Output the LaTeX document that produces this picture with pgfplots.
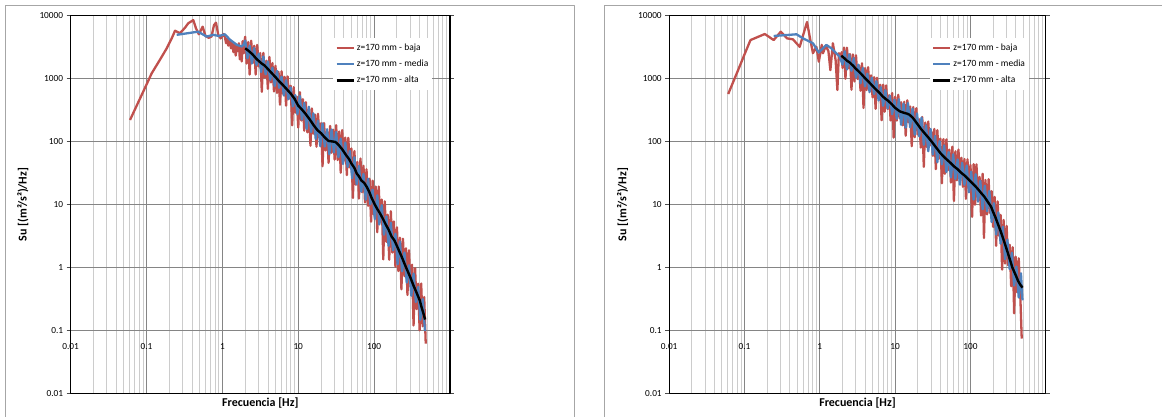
\documentclass[border=0pt]{standalone}
\usepackage{fontspec}
\setmainfont{Carlito}
\usepackage{pgfplots}
\pgfplotsset{compat=1.18}

\definecolor{baja}{HTML}{C0504D}
\definecolor{media}{HTML}{4F81BD}
\definecolor{marco}{HTML}{A6A6A6}

\begin{document}
\begin{tikzpicture}[line join=round]
\useasboundingbox (0,0) rectangle (1162pt,-417pt);
\draw[marco, line width=0.8pt] (5.6pt,-5pt) rectangle (574pt,-425pt);
\draw[marco, line width=0.8pt] (604.5pt,-5pt) rectangle (1175pt,-425pt);

% ---------------- left chart ----------------
\begin{axis}[at={(70.6pt,-15.3pt)}, anchor=north west,
    scale only axis, width=379.4pt, height=378.4pt,
    xmode=log, ymode=log,
    xmin=0.01, xmax=1000, ymin=0.01, ymax=10000,
    xtick={0.01,0.1,1,10,100,1000},
    xticklabels={0.01,0.1,1,10,100,},
    minor xtick={0.02,0.03,0.04,0.05,0.06,0.07,0.08,0.09,0.2,0.3,0.4,0.5,0.6,0.7,0.8,0.9,2,3,4,5,6,7,8,9,20,30,40,50,60,70,80,90,200,300,400,500,600,700,800,900},
    ytick={0.01,0.1,1,10,100,1000,10000},
    yticklabels={0.01,0.1,1,10,100,1000,10000},
    xmajorgrids, xminorgrids, ymajorgrids,
    major grid style={draw=black!48, line width=0.8pt},
    minor grid style={draw=black!20, line width=1pt},
    axis line style={line width=1.1pt},
    tick align=outside,
    major tick length=4pt, minor tick length=0pt,
    xtick style={draw=none},
    ytick style={draw=black!70, line width=0.8pt},
    ticklabel style={font=\fontsize{9.3}{11}\selectfont},
    xticklabel style={yshift=57.5pt},
    xlabel={\bfseries Frecuencia [Hz]},
    ylabel={\bfseries Su [(m²/s²)/Hz]},
    label style={font=\fontsize{12}{14}\selectfont},
    xlabel style={at={(axis description cs:0.5,0)}, anchor=north, yshift=-1pt},
    ylabel style={at={(axis description cs:-0.1255,0.5)}, anchor=center},
    legend style={draw=none, fill=white, at={(0.692,0.94)}, anchor=north west,
      font=\fontsize{9.5}{11}\selectfont, row sep=4pt, inner xsep=2pt, inner ysep=4pt},
    legend cell align=left]
\addplot[baja, line width=2.3pt] coordinates {
(0.0607,219)(0.08,447)(0.1,795)(0.117,1200)(0.15,1960)(0.185,3000)(0.215,4300)(0.238,5700)(0.276,5190)(0.32,6300)
(0.355,7460)(0.414,8400)(0.449,6220)(0.49,5000)(0.55,6600)(0.6,4700)(0.66,4400)(0.72,4600)(0.776,7000)(0.824,7640)
(0.883,4890)(0.95,4300)(1.03,5040)(1.08,4500)(1.12,3600)(1.16,4300)(1.2,3300)(1.25,4100)(1.3,3000)(1.35,3700)
(1.4,2600)(1.45,3500)(1.5,2300)(1.55,3300)(1.6,2700)(1.65,3600)(1.7,2000)(1.75,3100)(1.8,1850)(1.85,3900)
(1.9,2500)(1.95,3700)
(2.00,4570)(2.09,1718)(2.19,3760)(2.29,1148)(2.40,3960)(2.51,1760)(2.63,3290)(2.75,1148)(2.88,3388)(3.02,1549)
(3.16,2520)(3.31,612)(3.47,2535)(3.63,1030)(3.80,1905)(3.98,684)(4.17,2188)(4.37,863)(4.57,1750)(4.79,622)
(5.01,1585)(5.25,588)(5.50,1268)(5.75,381)(6.03,1297)(6.31,568)(6.61,1059)(6.92,369)(7.24,1072)(7.59,480)
(7.94,762)(8.32,180)(8.71,724)(9.12,286)(9.55,515)(10.0,166)(10.5,603)(11.0,214)(11.5,469)(12.0,148)
(12.6,419)(13.2,139)(13.8,325)(14.5,85.7)(15.1,334)(15.8,133)(16.6,267)(17.4,82.6)(18.2,274)(19.1,115)
(20.0,195)(20.9,40.4)(21.9,196)(22.9,72.1)(24.0,143)(25.1,45.7)(26.3,176)(27.5,66.2)(28.8,154)(30.2,51.5)
(31.6,181)(33.1,50.6)(34.7,144)(36.3,32.0)(38.0,151)(39.8,49.2)(41.7,115)(43.7,29.2)(45.7,114)(47.9,38.7)
(50.1,77.5)(52.5,12.7)(55.0,70.4)(57.5,20.6)(60.3,47.2)(63.1,12.4)(66.1,53.5)(69.2,15.7)(72.4,41.2)(75.9,10.8)
(79.4,36.2)(83.2,9.53)(87.1,25.6)(91.2,5.33)(95.5,23.8)(100,6.89)(105,19.2)(110,3.64)(115,19.3)(120,5.31)
(126,12.0)(132,1.35)(138,11.2)(145,2.56)(151,6.90)(158,1.33)(166,7.82)(174,1.73)(182,5.38)(191,1.03)
(200,4.34)(209,0.881)(219,2.98)(229,0.452)(240,2.87)(251,0.731)(263,2.02)(275,0.368)(288,1.88)(302,0.500)
(316,1.11)(331,0.121)(347,0.978)(363,0.219)(380,0.556)(398,0.101)(417,0.558)(437,0.117)(457,0.341)(479,0.0621)
};
\addlegendentry{z=170 mm - baja}
\addplot[media, line width=2.3pt] coordinates {
(0.25,4900)(0.35,5200)(0.48,5500)(0.62,4600)(0.76,4900)(0.9,4700)(1.08,5000)(1.26,4100)(1.55,3400)(1.8,3200)(1.9,3400)
(2.00,3970)(2.14,2075)(2.29,3296)(2.45,1722)(2.63,3027)(2.82,1633)(3.02,2466)(3.24,1262)(3.47,2228)(3.72,1159)
(3.98,1858)(4.27,951)(4.57,1479)(4.90,757)(5.25,1318)(5.62,708)(6.03,1064)(6.46,536)(6.92,933)(7.41,467)
(7.94,719)(8.51,359)(9.12,543)(9.77,271)(10.5,525)(11.2,222)(12.0,408)(12.9,157)(13.8,356)(14.8,141)
(15.8,279)(17.0,110)(18.2,213)(19.5,84.1)(20.9,193)(22.4,83.2)(24.0,156)(25.7,62.8)(27.5,155)(29.5,66.8)
(31.6,141)(33.9,56.5)(36.3,111)(38.9,43.8)(41.7,96.2)(44.7,39.4)(47.9,70.5)(51.3,26.1)(55.0,56.1)(58.9,20.9)
(63.1,40.9)(67.6,16.0)(72.4,30.5)(77.6,11.9)(83.2,25.6)(89.1,10.1)(95.5,17.2)(102,5.87)(110,14.0)(117,4.84)
(126,9.75)(135,3.32)(145,6.49)(155,2.21)(166,5.15)(178,1.88)(191,3.44)(204,1.13)(219,2.60)(234,0.875)
(251,1.73)(269,0.578)(288,1.09)(309,0.357)(331,0.804)(355,0.285)(380,0.492)(407,0.149)(437,0.317)(468,0.0984)
};
\addlegendentry{z=170 mm - media}
\addplot[black, line width=2.4pt] coordinates {
(2.0,3000)(2.2,2750)(2.5,2400)(2.8,2050)(3.0,1900)(3.3,1720)(3.6,1600)(4.0,1400)(4.5,1200)(5.0,1050)
(5.6,900)(6.3,780)(7.0,680)(7.9,580)(8.9,480)(10,370)(11.2,320)(12.6,270)(14.3,220)(16,180)
(18,150)(20,135)(22,118)(25,102)(28,100)(31,98)(34,88)(38,75)(43,60)(47,52)
(50,45)(55,38)(59,31)(63,28)(68,24)(74,22)(80,19)(86,16)(92,13)(102,10)
(110,8.5)(119,7.3)(130,6.0)(140,5.0)(155,4.0)(170,3.1)(185,2.7)(200,2.2)(215,1.8)(230,1.5)
(248,1.2)(264,1.0)(280,0.85)(300,0.7)(330,0.52)(366,0.39)(400,0.30)(420,0.24)(445,0.19)(470,0.15)
};
\addlegendentry{z=170 mm - alta}
\end{axis}

% ---------------- right chart ----------------
\begin{axis}[at={(669.2pt,-15.3pt)}, anchor=north west,
    scale only axis, width=376.6pt, height=378.4pt,
    xmode=log, ymode=log,
    xmin=0.01, xmax=1000, ymin=0.01, ymax=10000,
    xtick={0.01,0.1,1,10,100,1000},
    xticklabels={0.01,0.1,1,10,100,},
    minor xtick={0.02,0.03,0.04,0.05,0.06,0.07,0.08,0.09,0.2,0.3,0.4,0.5,0.6,0.7,0.8,0.9,2,3,4,5,6,7,8,9,20,30,40,50,60,70,80,90,200,300,400,500,600,700,800,900},
    ytick={0.01,0.1,1,10,100,1000,10000},
    yticklabels={0.01,0.1,1,10,100,1000,10000},
    xmajorgrids, xminorgrids, ymajorgrids,
    major grid style={draw=black!48, line width=0.8pt},
    minor grid style={draw=black!20, line width=1pt},
    axis line style={line width=1.1pt},
    tick align=outside,
    major tick length=4pt, minor tick length=0pt,
    xtick style={draw=none},
    ytick style={draw=black!70, line width=0.8pt},
    ticklabel style={font=\fontsize{9.3}{11}\selectfont},
    xticklabel style={yshift=57.5pt},
    xlabel={\bfseries Frecuencia [Hz]},
    ylabel={\bfseries Su [(m²/s²)/Hz]},
    label style={font=\fontsize{12}{14}\selectfont},
    xlabel style={at={(axis description cs:0.5,0)}, anchor=north, yshift=-1pt},
    ylabel style={at={(axis description cs:-0.1235,0.5)}, anchor=center},
    legend style={draw=none, fill=white, at={(0.692,0.94)}, anchor=north west,
      font=\fontsize{9.5}{11}\selectfont, row sep=4pt, inner xsep=2pt, inner ysep=4pt},
    legend cell align=left]
\addplot[baja, line width=2.3pt] coordinates {
(0.0607,565)(0.08,1250)(0.1,2400)(0.12,4050)(0.186,5050)(0.244,4050)(0.303,5500)(0.367,4310)(0.44,4160)(0.54,3160)
(0.61,5190)(0.676,7830)(0.734,4570)(0.81,2510)(0.9,3160)(0.97,1840)(1.06,3400)(1.1,2500)(1.2,3300)(1.3,2700)
(1.38,1350)(1.49,3600)(1.62,1950)(1.71,655)(1.79,2510)(1.9,2100)(1.95,2600)
(2.00,1466)(2.09,3083)(2.19,984)(2.29,3069)(2.40,1452)(2.51,2427)(2.63,661)(2.75,2399)(2.88,891)(3.02,2323)
(3.16,977)(3.31,1614)(3.47,638)(3.63,1734)(3.80,339)(3.98,1452)(4.17,652)(4.37,1503)(4.57,689)(4.79,1117)
(5.01,501)(5.25,1045)(5.50,330)(5.75,1021)(6.03,479)(6.31,794)(6.61,217)(6.92,793)(7.24,296)(7.59,774)
(7.94,327)(8.32,542)(8.71,215)(9.12,585)(9.55,115)(10.0,513)(10.5,214)(11.0,550)(11.5,234)(12.0,419)
(12.6,180)(13.2,424)(13.8,123)(14.5,449)(15.1,201)(15.8,359)(16.6,84.3)(17.4,352)(18.2,117)(19.1,337)
(20.0,129)(20.9,224)(21.9,79.8)(22.9,243)(24.0,39.5)(25.1,199)(26.3,81.7)(27.5,206)(28.8,85.9)(30.2,146)
(31.6,59.2)(33.1,158)(34.7,36.3)(36.3,151)(38.0,53.5)(39.8,111)(41.7,21.7)(43.7,109)(45.7,30.7)(47.9,108)
(50.1,34.9)(52.5,74.2)(55.0,22.3)(57.5,82.4)(60.3,11.4)(63.1,69.8)(66.1,24.2)(69.2,74.5)(72.4,26.5)(75.9,55.1)
(79.4,19.1)(83.2,52.6)(87.1,12.3)(91.2,52.0)(95.5,18.7)(100,42.4)(105,6.37)(110,43.6)(115,9.91)(120,43.3)
(126,11.5)(132,27.4)(138,6.68)(145,30.7)(151,2.94)(158,24.5)(166,6.97)(174,25.2)(182,7.36)(191,16.3)
(200,4.41)(209,13.2)(219,2.22)(229,11.2)(240,3.19)(251,6.85)(263,0.927)(275,5.69)(288,1.16)(302,4.56)
(316,1.09)(331,2.30)(347,0.506)(363,2.10)(380,0.188)(398,1.49)(417,0.405)(437,1.40)(457,0.406)(479,0.075)
};
\addlegendentry{z=170 mm - baja}
\addplot[media, line width=2.3pt] coordinates {
(0.244,4700)(0.35,4850)(0.49,5000)(0.6,4300)(0.81,3600)(0.97,2570)(1.1,3000)(1.22,3390)(1.42,3000)(1.6,2600)(1.83,2210)
(2.00,1660)(2.14,2692)(2.29,1387)(2.45,2393)(2.63,1318)(2.82,2094)(3.02,1023)(3.24,1652)(3.47,834)(3.72,1459)
(3.98,748)(4.27,1191)(4.57,604)(4.90,1026)(5.25,565)(5.62,904)(6.03,445)(6.46,723)(6.92,367)(7.41,647)
(7.94,334)(8.51,532)(9.12,270)(9.77,458)(10.5,229)(11.2,468)(12.0,183)(12.9,399)(13.8,166)(14.8,406)
(15.8,168)(17.0,333)(18.2,128)(19.5,278)(20.9,120)(22.4,239)(24.0,88.5)(25.7,180)(27.5,69.8)(29.5,158)
(31.6,61.9)(33.9,122)(36.3,46.7)(38.9,101)(41.7,43.3)(44.7,86.7)(47.9,32.7)(51.3,67.9)(55.0,26.9)(58.9,62.5)
(63.1,25.4)(67.6,51.8)(72.4,20.6)(77.6,45.9)(83.2,20.5)(89.1,41.5)(95.5,15.6)(102,33.2)(110,12.0)(117,30.3)
(126,11.1)(135,23.7)(145,8.43)(155,19.9)(166,7.83)(178,16.4)(191,5.27)(204,10.5)(219,3.34)(234,7.52)
(251,2.39)(269,4.45)(288,1.36)(309,2.76)(331,0.944)(355,1.72)(380,0.519)(407,1.04)(437,0.335)(468,0.813)
(490,0.303)
};
\addlegendentry{z=170 mm - media}
\addplot[black, line width=2.4pt] coordinates {
(1.93,2290)(2.1,2100)(2.3,1900)(2.5,1780)(2.8,1560)(3.0,1420)(3.3,1280)(3.6,1150)(4.0,1000)(4.5,870)
(5.0,760)(5.6,660)(6.2,590)(6.8,520)(7.5,470)(8.0,445)(9.0,390)(10,340)(11.5,300)(13,285)
(14.5,275)(15.5,265)(17,240)(18.5,210)(20,185)(22,158)(25,132)(28,113)(31,97)(35,80)
(40,65)(45,56)(50,50)(55,45)(60,40.5)(67,36.5)(75,32)(85,28.3)(95,24.8)(105,22)
(118,19.1)(130,16.7)(140,15)(152,13.4)(165,11.6)(187,9.3)(200,7.6)(215,6.2)(230,5.0)(250,3.85)
(270,2.94)(290,2.28)(315,1.67)(340,1.25)(360,1.0)(400,0.75)(430,0.61)(460,0.53)(490,0.48)
};
\addlegendentry{z=170 mm - alta}
\end{axis}
\end{tikzpicture}
\end{document}
